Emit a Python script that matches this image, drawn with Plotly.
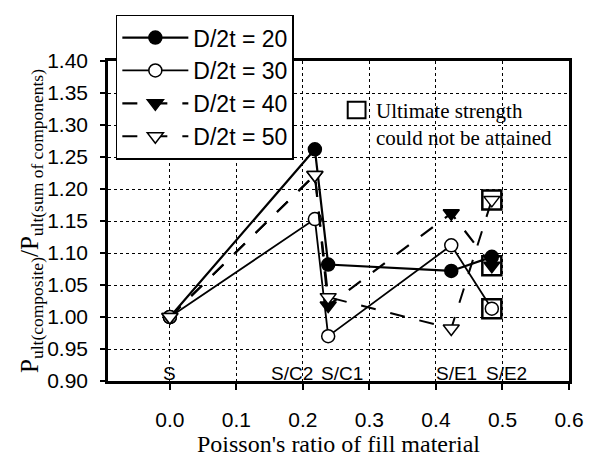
import plotly.graph_objects as go

# ---- data ----
categories = ["S", "S/C2", "S/C1", "S/E1", "S/E2"]
poisson = [0.0, 0.218, 0.238, 0.423, 0.484]
series_names = ["D/2t = 20", "D/2t = 30", "D/2t = 40", "D/2t = 50"]
d20 = [1.00, 1.262, 1.082, 1.072, 1.094]
d30 = [1.00, 1.153, 0.970, 1.112, 1.013]
d40 = [1.00, 1.222, 1.018, 1.162, 1.080]
d50 = [1.00, 1.222, 1.031, 0.982, 1.183]
# series whose last point (S/E2) did not reach ultimate strength
not_attained = ["D/2t = 30", "D/2t = 40", "D/2t = 50"]
x_ticks = [0.0, 0.1, 0.2, 0.3, 0.4, 0.5, 0.6]
y_ticks = [0.90, 0.95, 1.00, 1.05, 1.10, 1.15, 1.20, 1.25, 1.30, 1.35, 1.40]

values = dict(zip(series_names, [d20, d30, d40, d50]))

SANS = "Arial, Liberation Sans, sans-serif"
SERIF = "Times New Roman, Liberation Serif, serif"

styles = {
    "D/2t = 20": dict(symbol="circle", fill="black", dash="solid", lw=2.2, size=13),
    "D/2t = 30": dict(symbol="circle", fill="white", dash="solid", lw=1.8, size=13),
    "D/2t = 40": dict(symbol="triangle-down", fill="black", dash="longdash", lw=2.2, size=14),
    "D/2t = 50": dict(symbol="triangle-down", fill="white", dash="longdash", lw=2.0, size=14),
}

fig = go.Figure()

# squares marking "ultimate strength could not be attained"
sq_x = [poisson[-1] for n in not_attained]
sq_y = [values[n][-1] for n in not_attained]
fig.add_trace(go.Scatter(
    x=sq_x, y=sq_y, mode="markers", showlegend=False, hoverinfo="skip",
    marker=dict(symbol="square-open", size=19, color="black", line=dict(width=2.5, color="black")),
))

for name in series_names:
    st = styles[name]
    fig.add_trace(go.Scatter(
        x=poisson, y=values[name], name=name, mode="lines+markers",
        line=dict(color="black", width=st["lw"], dash=st["dash"]),
        marker=dict(symbol=st["symbol"], size=st["size"], color=st["fill"],
                    line=dict(color="black", width=1.5)),
    ))

# category labels inside the plot
label_anchor = ["center", "right", "left", "center", "center"]
label_shift = [0, 0, -9, 5, 15]
for cat, xv, anc, sh in zip(categories, poisson, label_anchor, label_shift):
    fig.add_annotation(x=xv, y=0.912, xref="x", yref="y", text=cat, showarrow=False,
                       xanchor=anc, yanchor="middle", xshift=sh,
                       font=dict(family=SANS, size=19, color="black"))

# note with open square
fig.add_shape(type="rect", xref="paper", yref="paper", x0=0.520, x1=0.5586, y0=0.821, y1=0.873,
              line=dict(color="black", width=2), fillcolor="white")
fig.add_annotation(x=0.576, y=0.800, xref="paper", yref="paper",
                   text="Ultimate strength<br>could not be attained", showarrow=False,
                   xanchor="left", yanchor="middle", align="left",
                   font=dict(family=SERIF, size=21, color="black"))

fig.update_layout(
    width=596, height=465,
    margin=dict(l=108, r=19, t=61, b=74),
    paper_bgcolor="white", plot_bgcolor="white",
    font=dict(family=SANS, color="black"),
    legend=dict(
        x=0.017, y=1.145, xanchor="left", yanchor="top",
        bgcolor="white", bordercolor="black", borderwidth=1.5,
        font=dict(family=SANS, size=23, color="black"),
        itemwidth=66, tracegroupgap=0,
    ),
)

fig.update_xaxes(
    range=[-0.093, 0.6], tickvals=x_ticks, tickformat=".1f",
    showline=True, linecolor="black", linewidth=2.5, mirror=True,
    ticks="outside", ticklen=6, tickwidth=1.5, tickcolor="black",
    ticklabelstandoff=12,
    showgrid=True, gridcolor="black", griddash="dot", gridwidth=1,
    zeroline=False,
    tickfont=dict(family=SANS, size=21, color="black"),
    title=dict(text="Poisson's ratio of fill material", standoff=5,
               font=dict(family=SERIF, size=24, color="black")),
)
fig.update_yaxes(
    range=[0.9, 1.4], tickvals=y_ticks, tickformat=".2f",
    showline=True, linecolor="black", linewidth=2.5, mirror=True,
    ticks="outside", ticklen=5, tickwidth=1.5, tickcolor="black",
    ticklabelstandoff=8,
    showgrid=True, gridcolor="black", griddash="dot", gridwidth=1,
    zeroline=False,
    tickfont=dict(family=SANS, size=21, color="black"),
    title=dict(text="P<sub>ult(composite)</sub>/P<sub>ult(sum of components)</sub>", standoff=2,
               font=dict(family=SERIF, size=25, color="black")),
)

fig.write_html("out.html")
